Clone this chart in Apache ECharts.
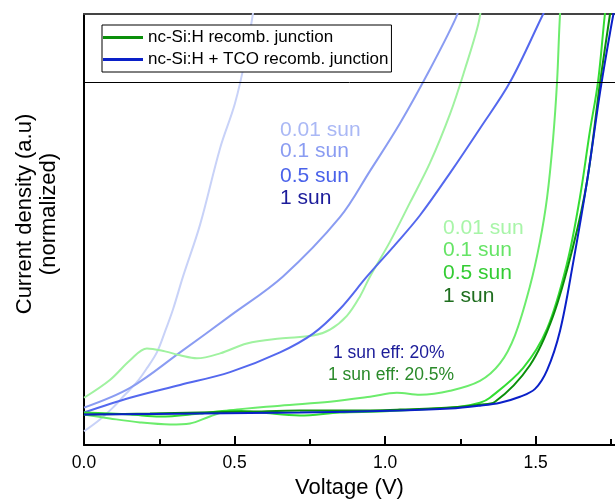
<!DOCTYPE html>
<html><head><meta charset="utf-8">
<script src="https://cdn.jsdelivr.net/npm/echarts@6/dist/echarts.min.js"></script>
<style>html,body{margin:0;padding:0;background:#fff}#c{width:615px;height:504px}</style>
</head><body><div id="c"></div>
<script>
// Voltage (V) / current density (a.u., normalized)
const b001V = [0,0.053,0.096,0.136,0.176,0.209,0.242,0.269,0.296,0.329,0.385,0.452,0.501,0.535,0.568];
const b001J = [0.14,0.26,0.38,0.51,0.64,0.78,0.94,1.15,1.38,1.71,2.23,3.01,3.46,3.91,4.51];
const b01V = [0,0.153,0.319,0.485,0.661,0.850,0.950,1.049,1.149,1.232,1.255];
const b01J = [0.38,0.58,0.94,1.31,1.71,2.31,2.78,3.26,3.81,4.31,4.51];
const b05V = [0,0.153,0.319,0.485,0.651,0.761,0.850,0.940,1.033,1.116,1.216,1.315,1.415,1.525,1.548];
const b05J = [0.33,0.48,0.61,0.74,0.94,1.13,1.38,1.71,2.03,2.33,2.76,3.21,3.68,4.37,4.51];
const b1V = [0,0.385,0.717,1.049,1.216,1.315,1.382,1.448,1.498,1.538,1.581,1.624,1.671,1.714,1.747,1.767];
const b1J = [0.31,0.32,0.33,0.35,0.37,0.40,0.43,0.49,0.57,0.76,1.16,1.84,2.68,3.58,4.18,4.51];
const g001V = [0,0.086,0.153,0.209,0.269,0.319,0.375,0.452,0.541,0.651,0.761,0.817,0.873,0.917,0.950,1.016,1.083,1.149,1.216,1.265,1.309,1.322];
const g001J = [0.48,0.66,0.86,0.98,0.95,0.91,0.88,0.93,1.03,1.08,1.11,1.17,1.31,1.51,1.71,2.06,2.46,2.86,3.36,3.81,4.26,4.51];
const g01V = [0,0.086,0.186,0.286,0.352,0.418,0.485,0.651,0.817,0.950,1.039,1.116,1.216,1.315,1.382,1.431,1.481,1.514,1.538,1.558,1.571,1.581,1.587];
const g01J = [0.31,0.27,0.23,0.21,0.22,0.29,0.35,0.40,0.44,0.49,0.53,0.51,0.55,0.65,0.83,1.11,1.61,2.06,2.51,3.11,3.68,4.37,4.51];
const g05V = [0,0.153,0.252,0.385,0.485,0.585,0.717,0.850,0.983,1.116,1.249,1.315,1.348,1.458,1.538,1.604,1.647,1.680,1.707,1.730,1.737];
const g05J = [0.33,0.31,0.29,0.32,0.35,0.33,0.30,0.33,0.34,0.36,0.39,0.43,0.48,0.78,1.18,1.84,2.51,3.18,3.68,4.37,4.51];
const g1V = [0,0.219,0.551,0.717,0.883,1.049,1.216,1.315,1.365,1.481,1.558,1.624,1.671,1.714,1.747,1.754];
const g1J = [0.31,0.32,0.34,0.35,0.35,0.36,0.38,0.41,0.44,0.81,1.31,2.01,2.68,3.68,4.37,4.51];
const xTicks = [0, 0.5, 1.0, 1.5];
const xMinorTicks = [0.25, 0.75, 1.25, 1.75];
const legendNames = ['nc-Si:H recomb. junction', 'nc-Si:H + TCO recomb. junction'];
const blueLabels = ['0.01 sun', '0.1 sun', '0.5 sun', '1 sun'];
const greenLabels = ['0.01 sun', '0.1 sun', '0.5 sun', '1 sun'];
const effLabels = ['1 sun eff: 20%', '1 sun eff: 20.5%'];
const refLevel = 3.68;

const FONT = 'Liberation Sans, Arial, sans-serif';
const zip = (a, b) => a.map((v, i) => [v, b[i]]);
function line(name, xs, ys, color, w) {
  return { name, type: 'line', data: zip(xs, ys), showSymbol: false, smooth: 0.35,
    lineStyle: { color, width: w || 2 }, itemStyle: { color }, silent: true, clip: true };
}
const series = [
  line('b001', b001V, b001J, '#c8d2f8'),
  line('b01', b01V, b01J, '#8a9cf2'),
  line('g001', g001V, g001J, '#a0f2a0'),
  line('g01', g01V, g01J, '#6cec6c'),
  line('b05', b05V, b05J, '#5468ee'),
  line('g05', g05V, g05J, '#33dd33'),
  line(legendNames[0], g1V, g1J, '#0a8f0a'),
  line(legendNames[1], b1V, b1J, '#0a20c8'),
];
series[0].markLine = { silent: true, symbol: 'none', label: { show: false },
  lineStyle: { color: '#000', width: 1, type: 'solid' }, data: [{ yAxis: refLevel }] };

const chart = echarts.init(document.getElementById('c'), null, { renderer: 'canvas' });
const txt = (text, x, y, color, size) => ({ type: 'text', left: x, top: y - size * 0.6,
  style: { text, fill: color, font: size + 'px ' + FONT } });
const blueCols = ['#aab8f5', '#8a9cf2', '#4a62ea', '#1c1c9a'];
const greenCols = ['#a8f5a8', '#66e466', '#33cc33', '#1f6e1f'];
const graphics = [];
blueLabels.forEach((t, i) => graphics.push(txt(t, 280, [132, 153, 178, 200][i], blueCols[i], 21)));
greenLabels.forEach((t, i) => graphics.push(txt(t, 443, [230, 252, 275, 298][i], greenCols[i], 21)));
graphics.push(txt(effLabels[0], 333, 355, '#1c1c99', 17.5));
graphics.push(txt(effLabels[1], 328, 377, '#2a8a2a', 17.5));
graphics.push({ type: 'text', x: 37, y: 214, rotation: Math.PI / 2,
  style: { text: 'Current density (a.u)\n(normalized)', fill: '#000', font: '22px ' + FONT,
    align: 'center', verticalAlign: 'middle', lineHeight: 24 } });

chart.setOption({
  animation: false,
  backgroundColor: '#fff',
  grid: { left: 84, right: 0, top: 14, bottom: 53 },
  legend: { data: legendNames, orient: 'vertical', left: 102, top: 25,
    padding: [4, 3, 4, 1], itemGap: 5, itemWidth: 40, itemHeight: 3, icon: 'rect',
    backgroundColor: '#fff', borderColor: '#000', borderWidth: 1,
    textStyle: { fontFamily: FONT, fontSize: 17, color: '#000', lineHeight: 17 } },
  xAxis: [
    { type: 'value', min: 0, max: 1.7635, position: 'bottom',
      name: 'Voltage (V)', nameLocation: 'middle', nameGap: 31,
      nameTextStyle: { fontFamily: FONT, fontSize: 22, color: '#000' },
      axisLine: { lineStyle: { color: '#000', width: 2 } },
      axisTick: { inside: true, length: 9, lineStyle: { color: '#000', width: 2 }, customValues: xTicks },
      axisLabel: { customValues: xTicks, margin: 9, fontFamily: FONT, fontSize: 17.5, color: '#000',
        formatter: v => v.toFixed(1) },
      splitLine: { show: false } },
    { type: 'value', min: 0, max: 1.7635, position: 'bottom',
      axisLine: { show: false },
      axisTick: { inside: true, length: 6, lineStyle: { color: '#000', width: 2 }, customValues: xMinorTicks },
      axisLabel: { show: false }, splitLine: { show: false } },
    { type: 'value', min: 0, max: 1.7635, position: 'top',
      axisLine: { lineStyle: { color: '#444', width: 2 } },
      axisTick: { show: false }, axisLabel: { show: false }, splitLine: { show: false } }
  ],
  yAxis: { type: 'value', min: 0, max: 4.37,
    axisLine: { show: true, lineStyle: { color: '#000', width: 2 } },
    axisTick: { show: false }, axisLabel: { show: false }, splitLine: { show: false } },
  series,
  graphic: graphics
});
</script></body></html>
